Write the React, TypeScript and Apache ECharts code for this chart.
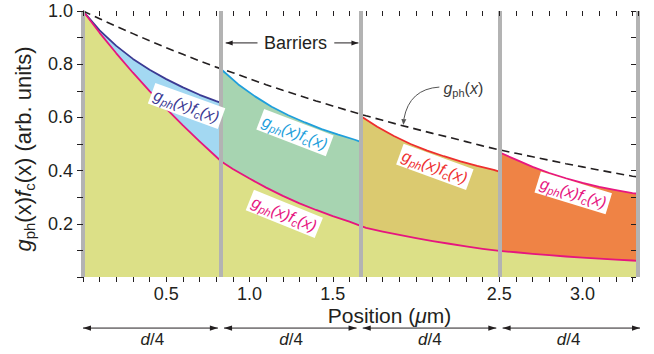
import React, { useEffect, useRef } from 'react';
import * as echarts from 'echarts';

// ---------- data ----------
const barrierX = [0, 0.833, 1.667, 2.5, 3.333];

const gphX = [0, 0.1, 0.2, 0.3, 0.4, 0.5, 0.6, 0.7, 0.8, 0.9, 1.0, 1.1, 1.2, 1.3, 1.4, 1.5, 1.6, 1.7, 1.8, 1.9, 2.0, 2.1, 2.2, 2.3, 2.4, 2.5, 2.6, 2.7, 2.8, 2.9, 3.0, 3.1, 3.2, 3.3, 3.333];
const gphY = [1.0, 0.971, 0.942, 0.915, 0.888, 0.862, 0.837, 0.812, 0.789, 0.768, 0.745, 0.723, 0.702, 0.682, 0.662, 0.643, 0.624, 0.606, 0.589, 0.572, 0.556, 0.540, 0.525, 0.509, 0.493, 0.478, 0.465, 0.452, 0.439, 0.426, 0.414, 0.402, 0.390, 0.379, 0.376];

const lowerX = [0, 0.1, 0.2, 0.3, 0.4, 0.5, 0.6, 0.7, 0.8, 0.833, 0.9, 1.0, 1.1, 1.2, 1.3, 1.4, 1.5, 1.6, 1.667, 1.7, 1.8, 1.9, 2.0, 2.1, 2.2, 2.3, 2.4, 2.5, 2.6, 2.7, 2.8, 2.9, 3.0, 3.1, 3.2, 3.3, 3.333];
const lowerY = [1.0, 0.918, 0.841, 0.768, 0.699, 0.633, 0.570, 0.510, 0.452, 0.433, 0.406, 0.370, 0.336, 0.305, 0.277, 0.252, 0.229, 0.208, 0.192, 0.185, 0.171, 0.158, 0.146, 0.135, 0.125, 0.115, 0.106, 0.098, 0.093, 0.087, 0.082, 0.077, 0.073, 0.069, 0.065, 0.062, 0.061];

const seg1X = [0, 0.1, 0.2, 0.3, 0.4, 0.5, 0.6, 0.7, 0.8, 0.833];
const seg1Y = [1.0, 0.927, 0.869, 0.820, 0.779, 0.744, 0.713, 0.685, 0.661, 0.654];
const seg2X = [0.833, 0.933, 1.033, 1.133, 1.233, 1.333, 1.433, 1.533, 1.633, 1.667];
const seg2Y = [0.779, 0.724, 0.679, 0.640, 0.608, 0.581, 0.556, 0.535, 0.516, 0.508];
const seg3X = [1.667, 1.767, 1.867, 1.967, 2.067, 2.167, 2.267, 2.367, 2.467, 2.5];
const seg3Y = [0.605, 0.565, 0.530, 0.500, 0.475, 0.454, 0.435, 0.418, 0.403, 0.396];
const seg4X = [2.5, 2.6, 2.7, 2.8, 2.9, 3.0, 3.1, 3.2, 3.3, 3.333];
const seg4Y = [0.469, 0.441, 0.414, 0.391, 0.371, 0.354, 0.339, 0.327, 0.315, 0.313];

const xTickLabels = [0.5, 1.0, 1.5, 2.5, 3.0];
const yTickLabels = [0.2, 0.4, 0.6, 0.8, 1.0];

// ---------- styling ----------
const FONT = "'Liberation Sans', Arial, Helvetica, sans-serif";
const INK = '#231f20';

const zip = (xs: number[], ys: number[]) => xs.map((x, i) => [x, ys[i]]);

function segSeries(name: string, xs: number[], ys: number[], line: string, fill: string) {
  return {
    name,
    type: 'line',
    data: zip(xs, ys),
    showSymbol: false,
    smooth: false,
    lineStyle: { color: line, width: 1.8, join: 'round' },
    itemStyle: { color: line },
    areaStyle: { color: fill, opacity: 1 },
    silent: true,
  };
}

const segLabels = [
  { x: 0.622, y: 0.643, rot: -20, color: '#3b3a93' },
  { x: 1.273, y: 0.543, rot: -21, color: '#1f9fdc' },
  { x: 1.209, y: 0.237, rot: -22, color: '#e6157f' },
  { x: 2.113, y: 0.414, rot: -20, color: '#ee2e2e' },
  { x: 2.944, y: 0.316, rot: -17, color: '#e6157f' },
];

const dArrows = [[0.0, 0.81], [0.847, 1.643], [1.68, 2.482], [2.52, 3.345]];
const dArrowY = -0.192;
const dLabelY = -0.236;

export default function App() {
  const ref = useRef<HTMLDivElement>(null);
  useEffect(() => {
    document.body.style.margin = '0';
    const chart = echarts.init(ref.current!, null, { renderer: 'svg' });
    const xFmt = (v: number) => (xTickLabels.some((t) => Math.abs(t - v) < 1e-6) ? v.toFixed(1) : '');
    const yFmt = (v: number) => (yTickLabels.some((t) => Math.abs(t - v) < 1e-6) ? v.toFixed(1) : '');
    const yRich = {
      n: { fontFamily: FONT, fontSize: 22, color: INK, lineHeight: 28 },
      i: { fontFamily: FONT, fontSize: 22, color: INK, lineHeight: 28, fontStyle: 'italic' },
      s: { fontFamily: FONT, fontSize: 15, color: INK, lineHeight: 12, verticalAlign: 'bottom' },
    };
    const xRich = {
      n: { fontFamily: FONT, fontSize: 21, color: INK, lineHeight: 20 },
      i: { fontFamily: FONT, fontSize: 21, color: INK, lineHeight: 20, fontStyle: 'italic' },
    };
    const tick = (length: number) => ({ show: true, inside: false, length, lineStyle: { color: INK, width: 1 } });
    const option: any = {
      animation: false,
      grid: { left: 83, right: 16, top: 11, bottom: 77 },
      xAxis: [
        {
          type: 'value', min: 0, max: 3.333, interval: 0.1, position: 'bottom', z: 10,
          axisLine: { show: false, onZero: false }, splitLine: { show: false },
          axisTick: tick(5),
          axisLabel: { formatter: xFmt, fontFamily: FONT, fontSize: 18, lineHeight: 16, color: INK, margin: 9, showMaxLabel: false },
          name: '{n|Position (}{i|μ}{n|m)}', nameLocation: 'middle', nameGap: 28, nameMoveOverlap: false,
          nameTextStyle: { padding: [0, 0, 0, 58], rich: xRich },
        },
        {
          type: 'value', min: 0, max: 3.333, interval: 0.1, position: 'top', offset: -5, z: 10,
          axisLine: { show: false, onZero: false }, splitLine: { show: false },
          axisTick: tick(5),
          axisLabel: { show: false },
        },
      ],
      yAxis: [
        {
          type: 'value', min: 0, max: 1, interval: 0.1, position: 'left', z: 10,
          axisLine: { show: false, onZero: false }, splitLine: { show: false },
          axisTick: tick(6),
          axisLabel: { formatter: yFmt, fontFamily: FONT, fontSize: 18, color: INK, margin: 10 },
          name: '{i|g}{s|ph}{n|(x)}{i|f}{s|c}{n|(x) (arb. units)}',
          nameLocation: 'middle', nameRotate: 90, nameGap: 46, nameMoveOverlap: false,
          nameTextStyle: { padding: [0, 10, 0, 0], rich: yRich },
        },
        {
          type: 'value', min: 0, max: 1, interval: 0.1, position: 'right', offset: -7, z: 10,
          axisLine: { show: false, onZero: false }, splitLine: { show: false },
          axisTick: tick(5),
          axisLabel: { show: false },
        },
      ],
      series: [
        segSeries('seg1', seg1X, seg1Y, '#3b3a93', '#a3d8f2'),
        segSeries('seg2', seg2X, seg2Y, '#1f9fdc', '#a7d4b1'),
        segSeries('seg3', seg3X, seg3Y, '#ee2e2e', '#dbca70'),
        segSeries('seg4', seg4X, seg4Y, '#e8177f', '#ef8345'),
        segSeries('lower', lowerX, lowerY, '#e6157f', '#dce087'),
        {
          name: 'barriers', type: 'line', data: [], silent: true,
          markLine: {
            silent: true, symbol: ['none', 'none'], label: { show: false },
            lineStyle: { color: '#b3b3b3', width: 4, type: 'solid' },
            data: barrierX.map((x) => ({ xAxis: x })),
          },
        },
        {
          name: 'gph', type: 'line', xAxisIndex: 1, yAxisIndex: 1,
          data: zip(gphX, gphY), showSymbol: false, smooth: false,
          lineStyle: { color: INK, width: 1.6, type: [8, 5] }, silent: true,
        },
      ],
    };
    chart.setOption(option);

    const P = (x: number, y: number) => chart.convertToPixel({ xAxisIndex: 0, yAxisIndex: 0 }, [x, y]) as number[];
    const head = (tip: number[], from: number[], color: string, len = 8, half = 3) => {
      const dx = tip[0] - from[0], dy = tip[1] - from[1];
      const L = Math.hypot(dx, dy) || 1;
      const ux = dx / L, uy = dy / L;
      const bx = tip[0] - ux * len, by = tip[1] - uy * len;
      return {
        type: 'polygon', z: 100, silent: true,
        shape: { points: [[tip[0], tip[1]], [bx - uy * half, by + ux * half], [bx + uy * half, by - ux * half]] },
        style: { fill: color },
      };
    };
    const line = (a: number[], b: number[], color: string, w = 1) => ({
      type: 'line', z: 100, silent: true,
      shape: { x1: a[0], y1: a[1], x2: b[0], y2: b[1] },
      style: { stroke: color, lineWidth: w },
    });

    const els: any[] = [];
    segLabels.forEach((l) => {
      const p = P(l.x, l.y);
      els.push({
        type: 'text', x: p[0], y: p[1], rotation: (l.rot * Math.PI) / 180, z: 100, silent: true,
        style: {
          text: '{i|g}{s|ph}{i|(x)f}{s|c}{i|(x)}',
          align: 'center', verticalAlign: 'middle',
          backgroundColor: '#ffffff', padding: [1, 3],
          fill: l.color,
          rich: {
            i: { fontFamily: FONT, fontSize: 16, fontStyle: 'italic', fill: l.color, lineHeight: 20 },
            s: { fontFamily: FONT, fontSize: 11, fontStyle: 'italic', fill: l.color, lineHeight: 11, verticalAlign: 'bottom' },
          },
        },
      });
    });
    const bt = P(1.276, 0.88);
    els.push({
      type: 'text', x: bt[0], y: bt[1], z: 100, silent: true,
      style: { text: 'Barriers', fontFamily: FONT, fontSize: 18, fill: INK, align: 'center', verticalAlign: 'middle' },
    });
    const bl0 = P(1.048, 0.88), bl1 = P(0.857, 0.88);
    const br0 = P(1.509, 0.88), br1 = P(1.654, 0.88);
    els.push(line(bl0, bl1, INK), head(bl1, bl0, INK, 7, 2.5));
    els.push(line(br0, br1, INK), head(br1, br0, INK, 7, 2.5));
    const gt = P(2.284, 0.707);
    els.push({
      type: 'text', x: gt[0], y: gt[1], z: 100, silent: true,
      style: {
        text: '{i|g}{s|ph}{n|(}{i|x}{n|)}', align: 'center', verticalAlign: 'middle', fill: '#3a3a3a',
        rich: {
          i: { fontFamily: FONT, fontSize: 16, fontStyle: 'italic', fill: '#3a3a3a', lineHeight: 20 },
          n: { fontFamily: FONT, fontSize: 16, fill: '#3a3a3a', lineHeight: 20 },
          s: { fontFamily: FONT, fontSize: 11, fill: '#3a3a3a', lineHeight: 11, verticalAlign: 'bottom' },
        },
      },
    });
    const c0 = P(2.140, 0.714), cc = P(1.960, 0.707), c1 = P(1.927, 0.594), ctip = P(1.924, 0.571);
    els.push({
      type: 'bezierCurve', z: 100, silent: true,
      shape: { x1: c0[0], y1: c0[1], x2: c1[0], y2: c1[1], cpx1: cc[0], cpy1: cc[1] },
      style: { stroke: '#555555', lineWidth: 1, fill: null },
    });
    els.push(head(ctip, c1, '#555555', 6, 2.5));
    dArrows.forEach(([a, b], k) => {
      const p0 = P(a, dArrowY), p1 = P(b, dArrowY);
      els.push(line(p0, p1, INK), head(p0, p1, INK, 8, 2.6), head(p1, p0, INK, 8, 2.6));
      const m = P((barrierX[k] + barrierX[k + 1]) / 2, dLabelY);
      els.push({
        type: 'text', x: m[0], y: m[1], z: 100, silent: true,
        style: {
          text: '{i|d}{n|/4}', align: 'center', verticalAlign: 'middle', fill: INK,
          rich: {
            i: { fontFamily: FONT, fontSize: 17, fontStyle: 'italic', fill: INK },
            n: { fontFamily: FONT, fontSize: 17, fill: INK },
          },
        },
      });
    });
    chart.setOption({ graphic: { elements: els } });
    return () => chart.dispose();
  }, []);
  return <div ref={ref} style={{ position: 'absolute', left: 0, top: 0, width: 654, height: 354 }} />;
}
